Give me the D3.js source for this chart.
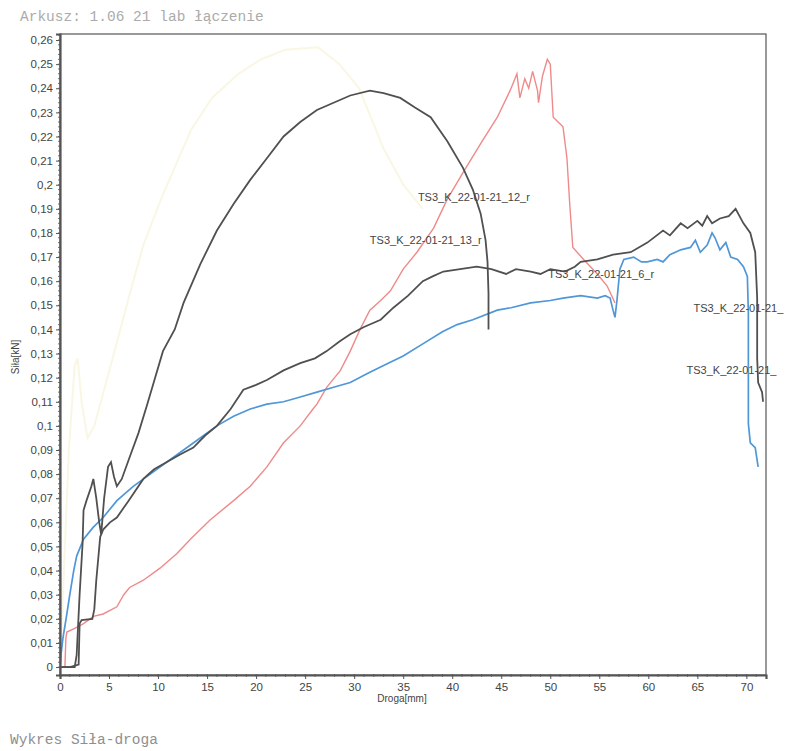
<!DOCTYPE html>
<html><head><meta charset="utf-8">
<script src="https://cdn.jsdelivr.net/npm/d3@7"></script>
<style>
html,body{margin:0;padding:0;background:#fff;}
svg{display:block;}
</style></head>
<body>
<svg id="chart" width="795" height="751"></svg>
<script>
// ---------- data ----------
const headerText = "Arkusz: 1.06 21 lab łączenie";
const footerText = "Wykres Siła-droga";
const xTitle = "Droga[mm]";
const yTitle = "Siła[kN]";
const xTickValues = [0,5,10,15,20,25,30,35,40,45,50,55,60,65,70];
const yTickValues = [0,0.01,0.02,0.03,0.04,0.05,0.06,0.07,0.08,0.09,0.1,0.11,0.12,0.13,0.14,0.15,0.16,0.17,0.18,0.19,0.2,0.21,0.22,0.23,0.24,0.25,0.26];

const seriesYellow = [[0,0],[0.4,0.04],[0.9,0.09],[1.5,0.125],[1.8,0.128],[2.2,0.11],[2.8,0.095],[3.5,0.1],[4.5,0.115],[5.5,0.13],[7,0.153],[8.5,0.175],[10.4,0.195],[12,0.21],[13.4,0.223],[15.5,0.236],[18.2,0.246],[20.5,0.252],[23,0.256],[26.3,0.257],[28.5,0.25],[30.5,0.24],[33,0.215],[35,0.2],[37,0.19]];

const seriesArch = [[0,0],[1.5,0],[1.7,0.005],[2.0,0.03],[2.3,0.051],[2.4,0.065],[2.7,0.069],[3.2,0.075],[3.4,0.078],[3.7,0.07],[4.0,0.06],[4.2,0.055],[4.5,0.07],[4.9,0.083],[5.2,0.085],[5.5,0.079],[5.8,0.075],[6.3,0.078],[7.1,0.087],[8.0,0.097],[8.9,0.109],[9.7,0.12],[10.5,0.131],[11.7,0.14],[12.6,0.151],[14.3,0.167],[16,0.181],[17.7,0.192],[19.4,0.202],[21.1,0.211],[22.8,0.22],[24.5,0.226],[26.2,0.231],[27.9,0.234],[29.6,0.237],[31.6,0.239],[33,0.238],[34.7,0.236],[36.2,0.232],[37.8,0.228],[39.5,0.218],[41.1,0.207],[42.1,0.198],[42.9,0.188],[43.4,0.177],[43.6,0.168],[43.7,0.155],[43.7,0.14]];

const seriesLong = [[0,0],[1.0,0.0],[1.9,0.001],[2.0,0.018],[2.2,0.0195],[3.3,0.02],[3.5,0.024],[3.7,0.036],[4.1,0.054],[4.4,0.057],[5.1,0.06],[5.8,0.062],[7,0.069],[8.5,0.078],[9.6,0.082],[10.9,0.085],[12.2,0.088],[13.6,0.091],[14.8,0.096],[16,0.1],[17.4,0.107],[18.7,0.115],[20,0.117],[21.1,0.119],[22.8,0.123],[24.5,0.126],[26,0.128],[27.2,0.131],[28.5,0.135],[29.6,0.138],[31,0.141],[32.7,0.144],[34,0.149],[35.5,0.154],[37,0.16],[38,0.162],[39.1,0.164],[40.8,0.165],[42.5,0.166],[44,0.165],[45.5,0.163],[46.5,0.165],[48,0.164],[49,0.163],[50,0.165],[51.5,0.164],[52.5,0.166],[53.1,0.168],[54.8,0.169],[56.4,0.171],[58.2,0.172],[59.9,0.176],[61.5,0.181],[62.2,0.179],[63.3,0.184],[64,0.182],[65,0.185],[65.5,0.183],[66,0.187],[66.5,0.184],[67.3,0.186],[68.2,0.187],[68.9,0.19],[69.3,0.187],[69.7,0.184],[70.4,0.18],[70.9,0.172],[71.1,0.153],[71.1,0.128],[71.2,0.118],[71.6,0.114],[71.7,0.11]];

const seriesBlue = [[0,0],[0.1,0.005],[0.3,0.012],[0.7,0.022],[1.0,0.03],[1.4,0.04],[1.7,0.046],[2.4,0.053],[3.4,0.058],[4.4,0.062],[5.8,0.069],[7.5,0.075],[9.2,0.08],[10.9,0.085],[12.6,0.09],[14.3,0.095],[16,0.1],[17.7,0.104],[19.4,0.107],[21.1,0.109],[22.8,0.11],[24.5,0.112],[26.2,0.114],[27.9,0.116],[29.6,0.118],[31.5,0.122],[33,0.125],[35,0.129],[37,0.134],[39,0.139],[40.5,0.142],[42.1,0.144],[44.6,0.148],[46,0.149],[48,0.151],[50,0.152],[51.3,0.153],[53.1,0.154],[54.8,0.153],[55.6,0.154],[56.1,0.153],[56.4,0.148],[56.6,0.145],[56.8,0.152],[57.1,0.165],[57.5,0.169],[58.5,0.17],[59.3,0.168],[59.9,0.168],[60.9,0.169],[61.5,0.168],[62.2,0.171],[63.3,0.173],[64.3,0.174],[64.8,0.177],[65.3,0.172],[66,0.175],[66.5,0.18],[66.8,0.178],[67.3,0.173],[67.9,0.176],[68.4,0.17],[69.1,0.169],[69.7,0.166],[70.1,0.162],[70.2,0.147],[70.2,0.101],[70.4,0.093],[70.9,0.091],[71.2,0.083]];

const seriesRed = [[0.5,0.0],[0.6,0.012],[0.7,0.0145],[1.5,0.016],[2.4,0.018],[3.4,0.021],[4.4,0.022],[5.8,0.025],[6.5,0.03],[7.1,0.033],[8.5,0.036],[10.2,0.041],[11.9,0.047],[13.3,0.053],[15.3,0.061],[17.7,0.069],[19.4,0.075],[21.1,0.083],[22.8,0.093],[24.5,0.1],[25.8,0.107],[26.2,0.109],[27.2,0.116],[28.6,0.123],[29.6,0.131],[30.6,0.14],[31.6,0.148],[32.7,0.152],[33.7,0.156],[35,0.165],[36.4,0.172],[38.1,0.182],[39.5,0.194],[41.1,0.205],[42.9,0.217],[44.6,0.228],[45.9,0.239],[46.6,0.246],[46.9,0.236],[47.4,0.244],[47.8,0.24],[48.2,0.247],[48.7,0.239],[48.8,0.234],[49.2,0.245],[49.7,0.252],[50.0,0.25],[50.3,0.228],[50.8,0.226],[51.3,0.224],[51.7,0.211],[52,0.191],[52.3,0.174],[53.4,0.169],[54.8,0.163],[55.8,0.158],[56.6,0.151]];

const labelTexts = ["TS3_K_22-01-21_12_r","TS3_K_22-01-21_13_r","TS3_K_22-01-21_6_r","TS3_K_22-01-21_","TS3_K_22-01-21_"];
const labelX = [36.5, 31.6, 49.8, 64.6, 63.9];
const labelY = [0.195, 0.177, 0.163, 0.149, 0.123];

// ---------- layout ----------
const svg = d3.select("#chart");
const x = d3.scaleLinear().domain([0,72]).range([60,766]);
const y = d3.scaleLinear().domain([-0.0033,0.2625]).range([675,34]);

const axisColor = "#555";
const sans = "Liberation Sans, Arial, sans-serif";

// header/footer
svg.append("text").attr("x",20).attr("y",21).text(headerText)
  .attr("font-family","Liberation Mono, monospace").attr("font-size",14.5).attr("fill","#ababab");
svg.append("text").attr("x",10).attr("y",744).text(footerText)
  .attr("font-family","Liberation Mono, monospace").attr("font-size",14.5).attr("fill","#8f8f8f");

// series
const line = d3.line().x(d=>x(d[0])).y(d=>y(d[1]));
svg.append("clipPath").attr("id","plot").append("rect")
  .attr("x",x(0)).attr("y",y(0.2625)).attr("width",x(72)-x(0)).attr("height",y(-0.0033)-y(0.2625));
const plot = svg.append("g").attr("clip-path","url(#plot)");
plot.append("path").datum(seriesYellow).attr("d",line).attr("fill","none").attr("stroke","#f2eec0").attr("stroke-width",2).attr("opacity",0.45);
plot.append("path").datum(seriesRed).attr("d",line).attr("fill","none").attr("stroke","#ef8a8a").attr("stroke-width",1.4);
plot.append("path").datum(seriesBlue).attr("d",line).attr("fill","none").attr("stroke","#4f97d8").attr("stroke-width",1.7);
plot.append("path").datum(seriesLong).attr("d",line).attr("fill","none").attr("stroke","#505050").attr("stroke-width",1.8);
plot.append("path").datum(seriesArch).attr("d",line).attr("fill","none").attr("stroke","#505050").attr("stroke-width",1.8);

// frame
svg.append("rect").attr("x",x(0)).attr("y",y(0.2625)).attr("width",x(72)-x(0)).attr("height",y(-0.0033)-y(0.2625))
  .attr("fill","none").attr("stroke",axisColor).attr("stroke-width",1.2);

// y axis
const yAxis = d3.axisLeft(y).tickValues(yTickValues).tickSize(4).tickPadding(3)
  .tickFormat(d=>d3.format(".2~f")(d).replace(".",","));
const ya = svg.append("g").attr("transform",`translate(${x(0)},0)`).call(yAxis);
ya.select(".domain").attr("stroke",axisColor).attr("stroke-width",2.2);
ya.selectAll(".tick line").attr("stroke",axisColor);
ya.selectAll("text").attr("font-family",sans).attr("font-size",11.5).attr("fill","#444");
const yMinor = d3.range(0,0.2625,0.002);
svg.append("g").selectAll("line").data(yMinor).join("line")
  .attr("x1",x(0)-2).attr("x2",x(0)+1).attr("y1",d=>y(d)).attr("y2",d=>y(d)).attr("stroke",axisColor).attr("stroke-width",0.8);

// x axis
const xAxis = d3.axisBottom(x).tickValues(xTickValues).tickSize(4).tickPadding(4).tickFormat(d3.format("d"));
const xa = svg.append("g").attr("transform",`translate(0,${y(-0.0033)})`).call(xAxis);
xa.select(".domain").attr("stroke",axisColor).attr("stroke-width",2.2);
xa.selectAll(".tick line").attr("stroke",axisColor);
xa.selectAll("text").attr("font-family",sans).attr("font-size",11.5).attr("fill","#444");
const xMinor = d3.range(0,72,1);
svg.append("g").selectAll("line").data(xMinor).join("line")
  .attr("y1",y(-0.0033)-1).attr("y2",y(-0.0033)+2).attr("x1",d=>x(d)).attr("x2",d=>x(d)).attr("stroke",axisColor).attr("stroke-width",0.8);

// titles
svg.append("text").attr("x",402).attr("y",702).attr("text-anchor","middle").text(xTitle)
  .attr("font-family",sans).attr("font-size",10).attr("fill","#444");
svg.append("text").attr("transform","translate(19,357) rotate(-90)").attr("text-anchor","middle").text(yTitle)
  .attr("font-family",sans).attr("font-size",10).attr("fill","#444");

// series labels
svg.append("g").selectAll("text").data(labelTexts).join("text")
  .attr("x",(d,i)=>x(labelX[i])).attr("y",(d,i)=>y(labelY[i])+4)
  .text(d=>d)
  .attr("font-family",sans).attr("font-size",11).attr("fill","#444");
</script>
</body></html>
